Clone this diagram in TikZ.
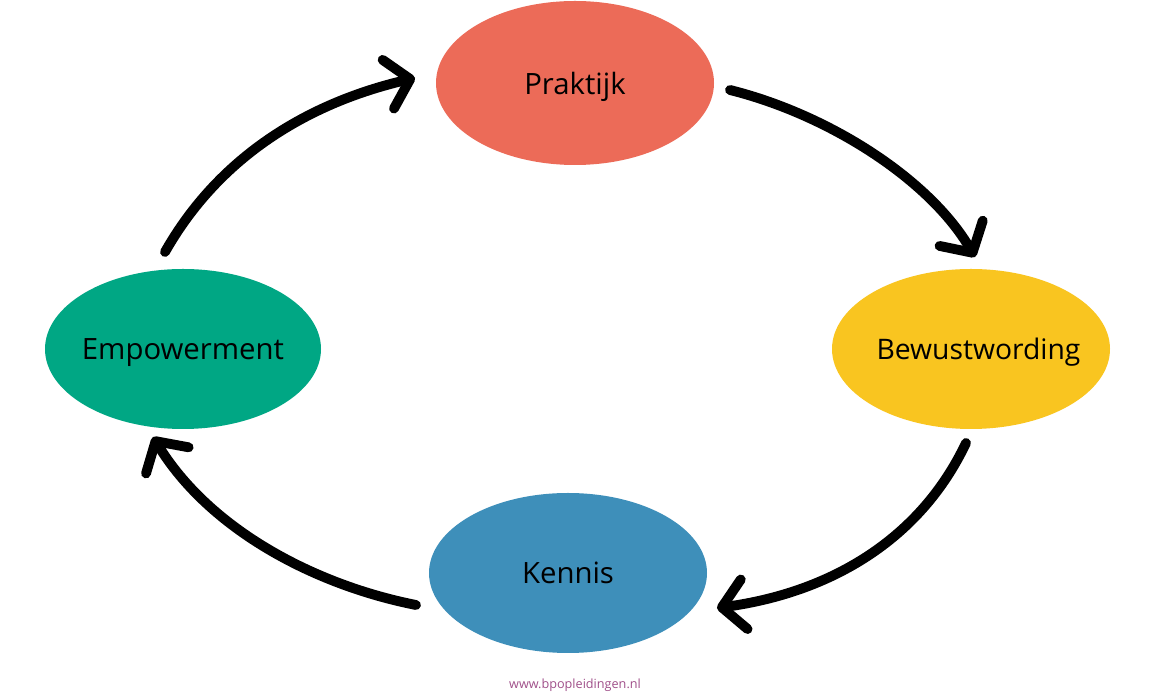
\documentclass[tikz,border=0pt]{standalone}
\usepackage{fontspec}
\setmainfont{Open Sans}
\usetikzlibrary{shapes.geometric,arrows.meta}
\definecolor{praktijkred}{HTML}{EC6B58}
\definecolor{bewustyellow}{HTML}{F9C520}
\definecolor{kennisblue}{HTML}{3E8FBA}
\definecolor{empgreen}{HTML}{00A784}
\definecolor{webpurple}{HTML}{A0508A}
\tikzset{
  stage/.style={ellipse, minimum width=5.56cm, minimum height=3.2cm, inner sep=0pt, inner xsep=-0.4cm, text depth=0pt, font=\fontsize{16.7}{19}\selectfont},
  cycle arrow/.style={line width=5.6pt, line cap=round, -{Straight Barb[length=0.45cm,width=1.0cm,line cap=round,line join=round]}}
}
\begin{document}
\begin{tikzpicture}
  \useasboundingbox (0,0) rectangle (23,14);
  \fill[white] (0,0) rectangle (23,14);

  \node[stage, fill=praktijkred, minimum height=3.28cm] (prak) at (11.5, 12.34) {Praktijk};
  \node[stage, fill=bewustyellow] (bew) at (19.42, 7.02) {\hspace*{0.3cm}\fontsize{16.1}{19}\selectfont Bewustwording};
  \node[stage, fill=kennisblue] (ken) at (11.36, 2.54) {Kennis};
  \node[stage, fill=empgreen, minimum width=5.52cm] (emp) at (3.66, 7.02) {Empowerment};

  \coordinate (a1) at (3.3, 8.96);
  \coordinate (b1) at (8.3, 12.44);
  \coordinate (a2) at (14.6, 12.2);
  \coordinate (b2) at (19.5, 8.86);
  \coordinate (a3) at (19.32, 5.14);
  \coordinate (b3) at (14.34, 1.84);
  \coordinate (a4) at (8.32, 1.9);
  \coordinate (b4) at (3.06, 5.26);

  \draw[cycle arrow] (a1) .. controls (4.4, 10.9) and (6.2, 11.95) .. (b1);
  \draw[cycle arrow] (a2) .. controls (16.6, 11.7) and (18.6, 10.4) .. (b2);
  \draw[cycle arrow] (a3) .. controls (18.4, 3.2) and (16.6, 2.15) .. (b3);
  \draw[cycle arrow] (a4) .. controls (6.3, 2.3) and (4.2, 3.4) .. (b4);

  \node[text=webpurple, font=\fontsize{7.2}{9}\selectfont] (web) at (11.5, 0.3) {www.bpopleidingen.nl};
\end{tikzpicture}
\end{document}
